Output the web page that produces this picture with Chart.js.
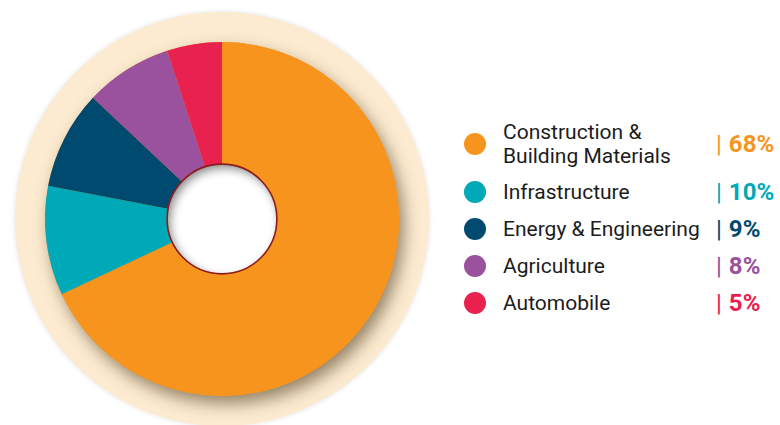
<!DOCTYPE html>
<html>
<head>
<meta charset="utf-8">
<script src="https://cdn.jsdelivr.net/npm/chart.js@4.4.1/dist/chart.umd.min.js"></script>
<style>
  html, body { margin: 0; padding: 0; background: #fff; }
  body { width: 780px; height: 425px; position: relative; overflow: hidden; font-family: Roboto, "Noto Sans", sans-serif; }
  .chart-box { position: absolute; left: 0; top: 0; width: 444px; height: 425px; }
  .legend { position: absolute; left: 464px; top: 120px; width: 316px; }
  .legend-item { position: relative; height: 37px; display: flex; align-items: center; }
  .legend-item.tall { height: 48px; margin-bottom: 5px; }
  .legend-dot { width: 22px; height: 22px; border-radius: 50%; flex: none; }
  .legend-label { margin-left: 17px; font-size: 21px; line-height: 24px; color: #1c1c1c; }
  .legend-pct { position: absolute; left: 252px; font-size: 24px; font-weight: 700; line-height: 26px; }
  .legend-pct .bar { font-weight: 400; margin-right: 7px; }
</style>
</head>
<body>
<div class="chart-box"><canvas id="sectorChart"></canvas></div>
<div class="legend" id="chartLegend"></div>
<script>
const categories = ['Construction &\nBuilding Materials', 'Infrastructure', 'Energy & Engineering', 'Agriculture', 'Automobile'];
const shares = [68, 10, 9, 8, 5];
const colors = ['#F7941E', '#00A9B7', '#004A6F', '#9A519E', '#E8214F'];

// plate behind the ring, drop shadow and the shaded hole
const decorPlugin = {
    id: 'decor',
    beforeDatasetsDraw(chart) {
        const arc = chart.getDatasetMeta(0).data[0];
        const { x, y, outerRadius, innerRadius } = arc.getProps(['x', 'y', 'outerRadius', 'innerRadius'], true);
        const ctx = chart.ctx;
        ctx.save();
        ctx.shadowColor = 'rgba(0,0,0,0.12)';
        ctx.shadowBlur = 5;
        ctx.beginPath();
        ctx.arc(x, y, outerRadius + 30, 0, Math.PI * 2);
        ctx.fillStyle = '#FCEBD0';
        ctx.fill();

        ctx.shadowColor = 'rgba(70,50,20,0.55)';
        ctx.shadowBlur = 16;
        ctx.shadowOffsetX = 5;
        ctx.shadowOffsetY = 8;
        ctx.beginPath();
        ctx.arc(x, y, outerRadius, 0, Math.PI * 2);
        ctx.arc(x, y, innerRadius, 0, Math.PI * 2, true);
        ctx.fillStyle = colors[0];
        ctx.fill();
        ctx.restore();
    },
    afterDatasetsDraw(chart) {
        const arc = chart.getDatasetMeta(0).data[0];
        const { x, y, innerRadius } = arc.getProps(['x', 'y', 'innerRadius'], true);
        const ctx = chart.ctx;
        ctx.save();
        ctx.beginPath();
        ctx.arc(x, y, innerRadius, 0, Math.PI * 2);
        ctx.fillStyle = '#fff';
        ctx.fill();
        ctx.clip();
        ctx.shadowColor = 'rgba(0,0,0,0.45)';
        ctx.shadowBlur = 10;
        ctx.shadowOffsetX = 3;
        ctx.shadowOffsetY = 4;
        ctx.beginPath();
        ctx.arc(x, y, innerRadius + 40, 0, Math.PI * 2);
        ctx.arc(x, y, innerRadius, 0, Math.PI * 2, true);
        ctx.fillStyle = '#000';
        ctx.fill();
        ctx.restore();

        ctx.save();
        ctx.beginPath();
        ctx.arc(x, y, innerRadius, 0, Math.PI * 2);
        ctx.strokeStyle = '#8E1B1B';
        ctx.lineWidth = 1.6;
        ctx.stroke();
        ctx.restore();
    }
};

const ctx = document.getElementById('sectorChart').getContext('2d');
const sectorChart = new Chart(ctx, {
    type: 'doughnut',
    data: {
        labels: categories,
        datasets: [{
            data: shares,
            backgroundColor: colors,
            borderWidth: 0,
            hoverOffset: 0,
            cutout: '31%'
        }]
    },
    options: {
        responsive: true,
        maintainAspectRatio: false,
        animation: false,
        layout: { padding: { left: 45, right: 45, top: 42, bottom: 29 } },
        plugins: {
            legend: { display: false },
            tooltip: { enabled: false }
        }
    },
    plugins: [decorPlugin]
});

const legendDiv = document.getElementById('chartLegend');
categories.forEach((cat, i) => {
    const tall = cat.includes('\n');
    legendDiv.innerHTML += `
        <div class="legend-item${tall ? ' tall' : ''}">
            <div class="legend-dot" style="background:${colors[i]};"></div>
            <div class="legend-label">${cat.replace('\n', '<br>')}</div>
            <div class="legend-pct" style="color:${colors[i]};"><span class="bar">|</span>${shares[i]}%</div>
        </div>`;
});
</script>
</body>
</html>
